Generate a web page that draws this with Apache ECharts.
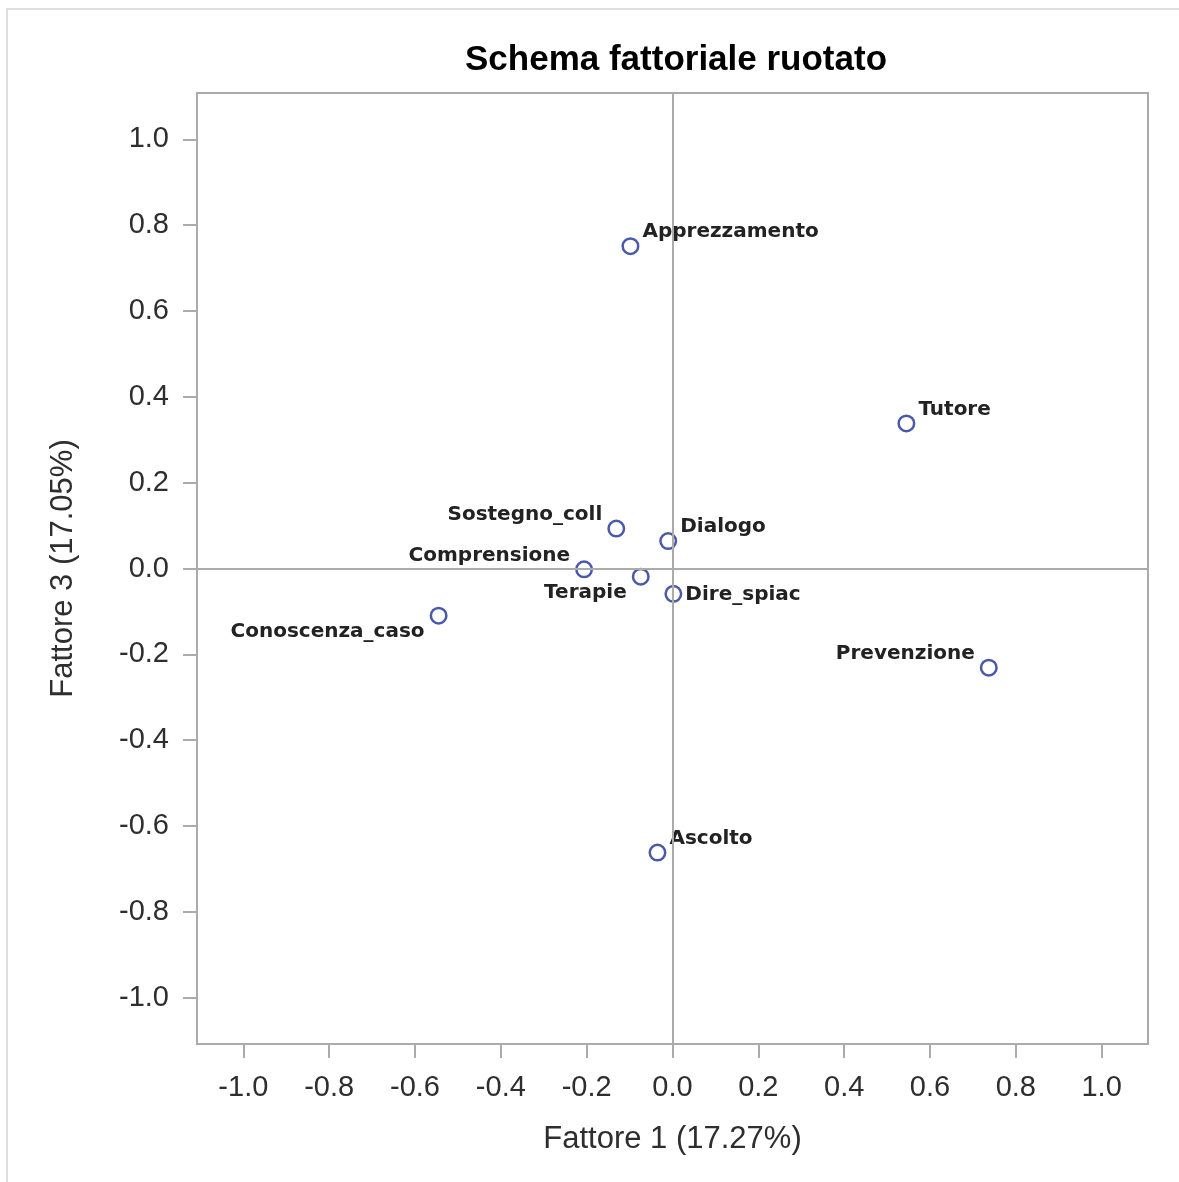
<!DOCTYPE html>
<html>
<head>
<meta charset="utf-8">
<script src="https://cdn.jsdelivr.net/npm/echarts@6/dist/echarts.min.js"></script>
<style>
html,body{margin:0;padding:0;background:#fff;}
#chart{width:1179px;height:1182px;}
</style>
</head>
<body>
<div id="chart"></div>
<script>
// ---- data ----
const variables = ['Apprezzamento','Tutore','Sostegno_coll','Dialogo','Comprensione','Terapie','Dire_spiac','Conoscenza_caso','Prevenzione','Ascolto'];
const fattore1 = [-0.098, 0.545, -0.131, -0.010, -0.206, -0.074, 0.002, -0.545, 0.737, -0.035];
const fattore3 = [0.751, 0.338, 0.093, 0.064, -0.002, -0.019, -0.059, -0.110, -0.231, -0.662];
const tickValues = [-1.0,-0.8,-0.6,-0.4,-0.2,0.0,0.2,0.4,0.6,0.8,1.0];
const titleText = 'Schema fattoriale ruotato';
const xTitle = 'Fattore 1 (17.27%)';
const yTitle = 'Fattore 3 (17.05%)';

// ---- label placement (style only) ----
const placements = {
  topRight:    {position:'right', distance:3, dy:-14},
  topLeft:     {position:'left',  distance:5, dy:-14},
  bottomLeft:  {position:'left',  distance:5, dy:16},
  right:       {position:'right', distance:3, dy:1}
};
const labelPlacement = {
  Apprezzamento:'topRight', Tutore:'topRight', Sostegno_coll:'topLeft', Dialogo:'topRight',
  Comprensione:'topLeft', Terapie:'bottomLeft', Dire_spiac:'right', Conoscenza_caso:'bottomLeft',
  Prevenzione:'topLeft', Ascolto:'topRight'
};

const points = variables.map((n,i) => {
  const p = placements[labelPlacement[n]];
  return {name:n, value:[fattore1[i], fattore3[i]], label:{position:p.position, distance:p.distance}};
});

const frameColor = '#ababab';
const tickFont = {fontFamily:'"Liberation Sans", Arial, sans-serif', fontSize:29, color:'#2e2e2e'};

const chart = echarts.init(document.getElementById('chart'), null, {renderer:'canvas'});
chart.setOption({
  animation:false,
  backgroundColor:'#fff',
  title:{
    text:titleText, left:671, top:38, textAlign:'center',
    textStyle:{fontFamily:'"Liberation Sans", Arial, sans-serif', fontWeight:'bold', fontSize:35, color:'#000'}
  },
  graphic:[{
    type:'rect', silent:true, z:-1,
    shape:{x:7,y:9,width:1300,height:1300},
    style:{fill:null, stroke:'#dedede', lineWidth:2}
  }],
  grid:{
    left:197, top:93, right:31, bottom:138,
    outerBoundsMode:'none', containLabel:false,
    show:true, borderColor:frameColor, borderWidth:2, backgroundColor:'#fff'
  },
  xAxis:{
    type:'value', min:-1.108, max:1.108, position:'bottom',
    name:xTitle, nameLocation:'middle', nameGap:80,
    nameTextStyle:{fontFamily:'"Liberation Sans", Arial, sans-serif', fontSize:31, color:'#2e2e2e'},
    axisLine:{show:false, onZero:false},
    axisTick:{show:true, inside:false, length:14, customValues:tickValues, lineStyle:{color:frameColor, width:2}},
    axisLabel:Object.assign({customValues:tickValues, margin:29, formatter:v=>v.toFixed(1)}, tickFont),
    splitLine:{show:false}
  },
  yAxis:{
    type:'value', min:-1.108, max:1.108, position:'left',
    name:yTitle, nameLocation:'middle', nameGap:118,
    nameTextStyle:{fontFamily:'"Liberation Sans", Arial, sans-serif', fontSize:31, color:'#2e2e2e'},
    axisLine:{show:false, onZero:false},
    axisTick:{show:true, inside:false, length:14, customValues:tickValues, lineStyle:{color:frameColor, width:2}},
    axisLabel:Object.assign({customValues:tickValues, margin:28, formatter:v=>v.toFixed(1)}, tickFont),
    splitLine:{show:false}
  },
  series:[
    {
      type:'scatter', data:[], z:1, silent:true,
      markLine:{
        silent:true, symbol:['none','none'], label:{show:false},
        lineStyle:{type:'solid', color:frameColor, width:2},
        emphasis:{disabled:true},
        data:[{xAxis:0},{yAxis:0}]
      }
    },
    {
      type:'scatter', z:3,
      symbol:'circle', symbolSize:15.5,
      itemStyle:{color:'#fff', borderColor:'#4a5aa8', borderWidth:2.5, opacity:1},
      label:{
        show:true, formatter:p=>p.name,
        fontFamily:'"DejaVu Sans", sans-serif', fontWeight:'bold', fontSize:20, color:'#222'
      },
      labelLayout:function(params){
        const n = variables[params.dataIndex];
        const p = placements[labelPlacement[n]];
        return {dy:p.dy, hideOverlap:false};
      },
      emphasis:{disabled:true},
      data:points
    }
  ]
});
</script>
</body>
</html>
